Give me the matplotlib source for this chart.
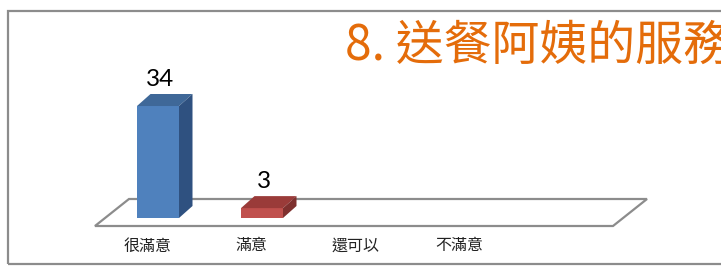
import matplotlib.pyplot as plt
from matplotlib.patches import Polygon, Rectangle

plt.rcParams['font.family'] = ['Noto Sans CJK TC', 'DejaVu Sans']

# data
categories = ["很滿意", "滿意", "還可以", "不滿意"]
values = [34, 3, 0, 0]
title = "8. 送餐阿姨的服務"

front_colors = ["#4F81BD", "#C0504D", "#9BBB59", "#8064A2"]
top_colors = ["#3F6898", "#9A3B39", "#7C9647", "#664F82"]
side_colors = ["#2F5180", "#7E302E", "#5F7236", "#4C3C62"]

W, H = 721, 272
fig = plt.figure(figsize=(W / 100, H / 100), dpi=100)
ax = fig.add_axes([0, 0, 1, 1])

# pixel layout -> data mapping (bar i front centre at 158 + 104*i px, zero line at 54 px from bottom)
px_x, px_y = 104.0, 3.294
ax.set_xlim(-158 / px_x, (W - 158) / px_x)
ax.set_ylim(-54 / px_y, (H - 54) / px_y)
ax.axis("off")

dx = 13.5 / px_x      # bar depth offset in data units
dy = 12.0 / px_y
half = 21 / px_x      # half width of bar front

# floor parallelogram
n = len(categories)
fx0, fx1 = -0.606, n - 1 + 1.375
fy0 = -8 / px_y
fdx, fdy = 34 / px_x, 27 / px_y
floor = Polygon([(fx0, fy0), (fx1, fy0), (fx1 + fdx, fy0 + fdy), (fx0 + fdx, fy0 + fdy)],
                closed=True, facecolor="white", edgecolor="#8C8C8C", lw=1.6, zorder=1)
ax.add_patch(floor)

for i, v in enumerate(values):
    if v <= 0:
        continue
    x0, x1 = i - half, i + half
    ax.bar(i, v, width=2 * half, color=front_colors[i], edgecolor="none", zorder=3)
    top = Polygon([(x0, v), (x1, v), (x1 + dx, v + dy), (x0 + dx, v + dy)],
                  closed=True, facecolor=top_colors[i], edgecolor="none", zorder=3)
    side = Polygon([(x1, 0), (x1 + dx, dy), (x1 + dx, v + dy), (x1, v)],
                   closed=True, facecolor=side_colors[i], edgecolor="none", zorder=3)
    ax.add_patch(top)
    ax.add_patch(side)
    ax.text(i + 0.02, v + dy + 1.3, str(v), ha="center", va="bottom",
            fontsize=17.5, family=["Lato", "DejaVu Sans"], color="black", zorder=4)

for i, c in enumerate(categories):
    ax.text(i - 0.1, -8.5, c, ha="center", va="center", fontsize=11.5, color="#222222")

# outer frame (right side cut off)
fig.add_artist(Rectangle((8 / W, 1 - 264 / H), 1.2, (264 - 11) / H, transform=fig.transFigure,
                         facecolor="none", edgecolor="#8C8C8C", lw=1.6))

fig.text(345 / W, 1 - 46 / H, title, ha="left", va="center", fontsize=34.5,
         color="#E46C0A", fontweight="medium")

fig.savefig("out.png", dpi=100)
